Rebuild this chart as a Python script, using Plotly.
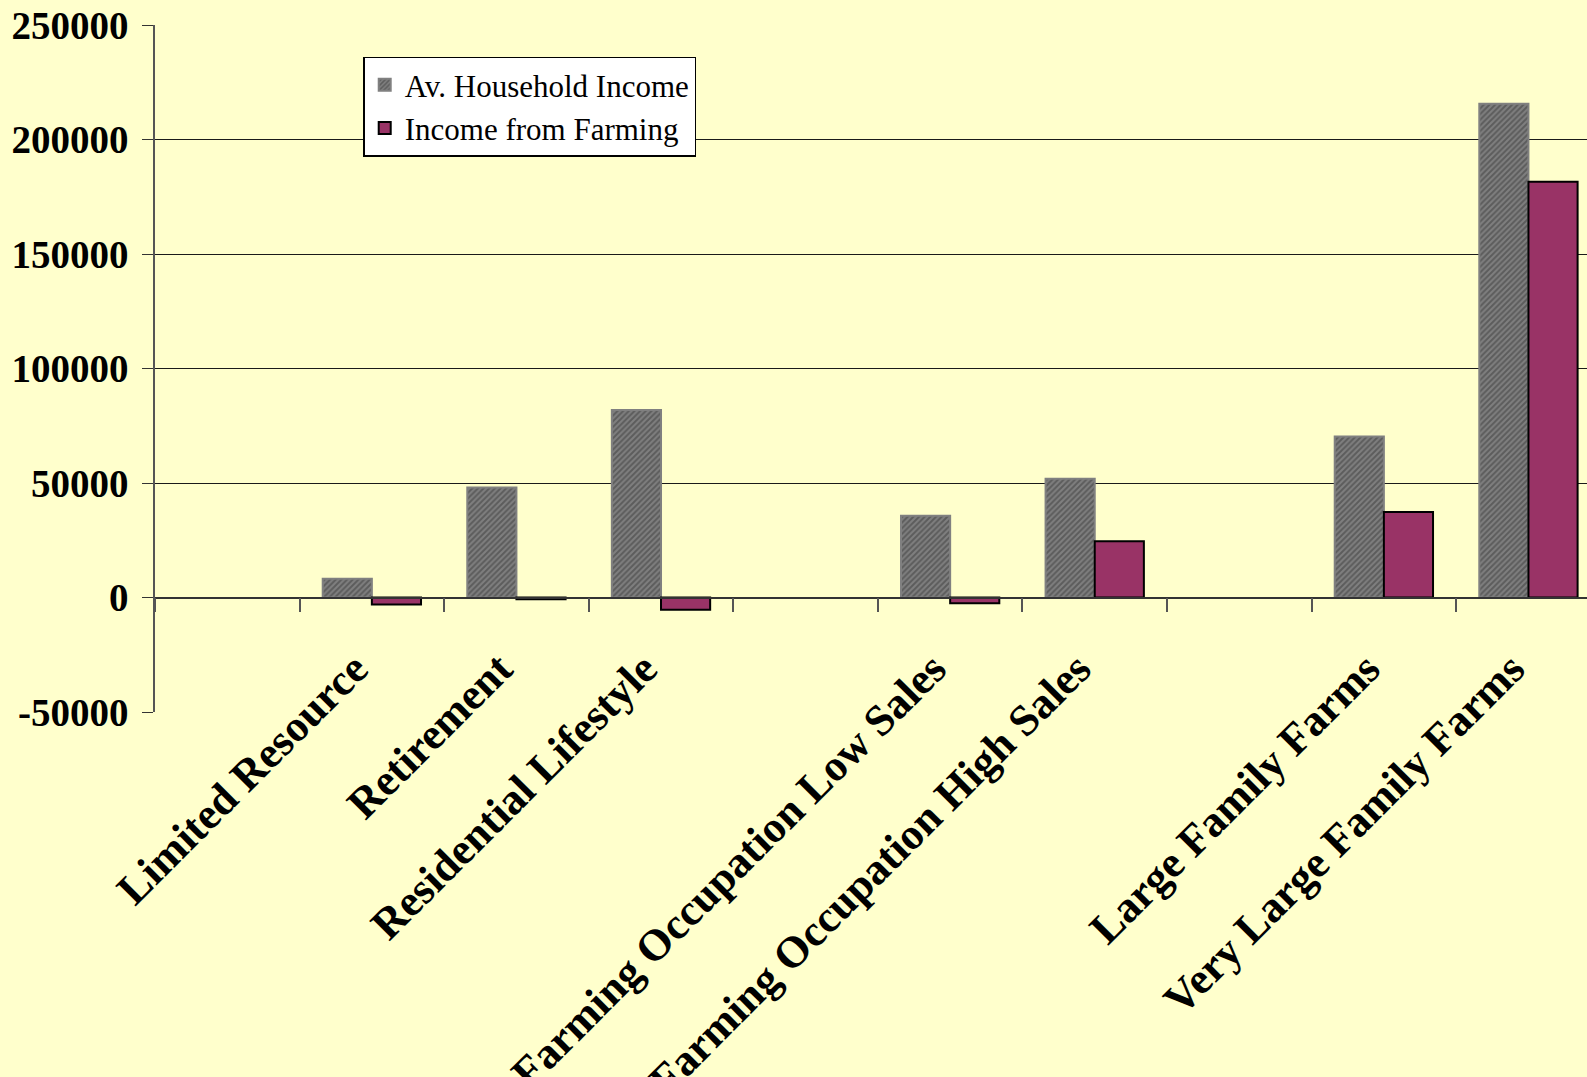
import plotly.graph_objects as go

# Farm typology categories (blank slots separate the groups)
categories = [
    " ",
    "Limited Resource",
    "Retirement",
    "Residential Lifestyle",
    "  ",
    "Farming Occupation Low Sales",
    "Farming Occupation High Sales",
    "   ",
    "Large Family Farms",
    "Very Large Family Farms",
]

household_income = [None, 8200, 48000, 81900, None, 35700, 51900, None, 70300, 215600]
farming_income = [None, -3100, -800, -5400, None, -2500, 24600, None, 37300, 181500]

y_ticks = [-50000, 0, 50000, 100000, 150000, 200000, 250000]

SERIF = "Liberation Serif, Times New Roman, serif"
BG = "#FFFFCC"

fig = go.Figure()

fig.add_trace(go.Bar(
    name="Av. Household Income",
    x=categories,
    y=household_income,
    marker=dict(
        color="#808080",
        line=dict(color="#808080", width=2),
        pattern=dict(shape="/", fgcolor="#3a3a3a", bgcolor="#7f7f7f",
                     size=4, solidity=0.5),
    ),
))

fig.add_trace(go.Bar(
    name="Income from Farming",
    x=categories,
    y=farming_income,
    marker=dict(color="#993366", line=dict(color="#000000", width=2)),
))

fig.update_layout(
    width=1587,
    height=1077,
    margin=dict(l=155, r=0, t=25, b=365, autoexpand=False),
    paper_bgcolor=BG,
    plot_bgcolor=BG,
    barmode="group",
    bargap=0.32,
    bargroupgap=0,
    font=dict(family=SERIF, color="#000000"),
    showlegend=True,
    legend=dict(
        x=0.1454, y=0.954, xanchor="left", yanchor="top",
        bgcolor="#FFFFFF", bordercolor="#000000", borderwidth=1.5,
        font=dict(family=SERIF, size=31, color="#000000"),
        itemsizing="constant",
    ),
)

fig.update_xaxes(
    type="category",
    categoryorder="array",
    categoryarray=categories,
    range=[-0.5, 9.405],
    anchor="free",
    position=50000 / 300000,
    showline=True,
    linecolor="#333333",
    linewidth=1.5,
    showgrid=False,
    zeroline=False,
    ticks="outside",
    tickson="boundaries",
    ticklen=14,
    tickwidth=1.5,
    tickcolor="#555555",
    tickangle=-45,
    ticklabelstandoff=27,
    ticklabelshift=-17,
    tickfont=dict(family=SERIF, size=44, color="#000000", weight="bold"),
)

fig.update_yaxes(
    range=[-50000, 250000],
    tickvals=y_ticks,
    ticktext=[str(v) for v in y_ticks],
    showline=True,
    linecolor="#555555",
    linewidth=1.5,
    showgrid=True,
    gridcolor="#1a1a1a",
    gridwidth=1.2,
    zeroline=False,
    ticks="outside",
    ticklen=11,
    tickwidth=1.2,
    tickcolor="#333333",
    ticklabelstandoff=6,
    tickfont=dict(family=SERIF, size=39, color="#000000", weight="bold"),
)

fig.write_html("out.html")
